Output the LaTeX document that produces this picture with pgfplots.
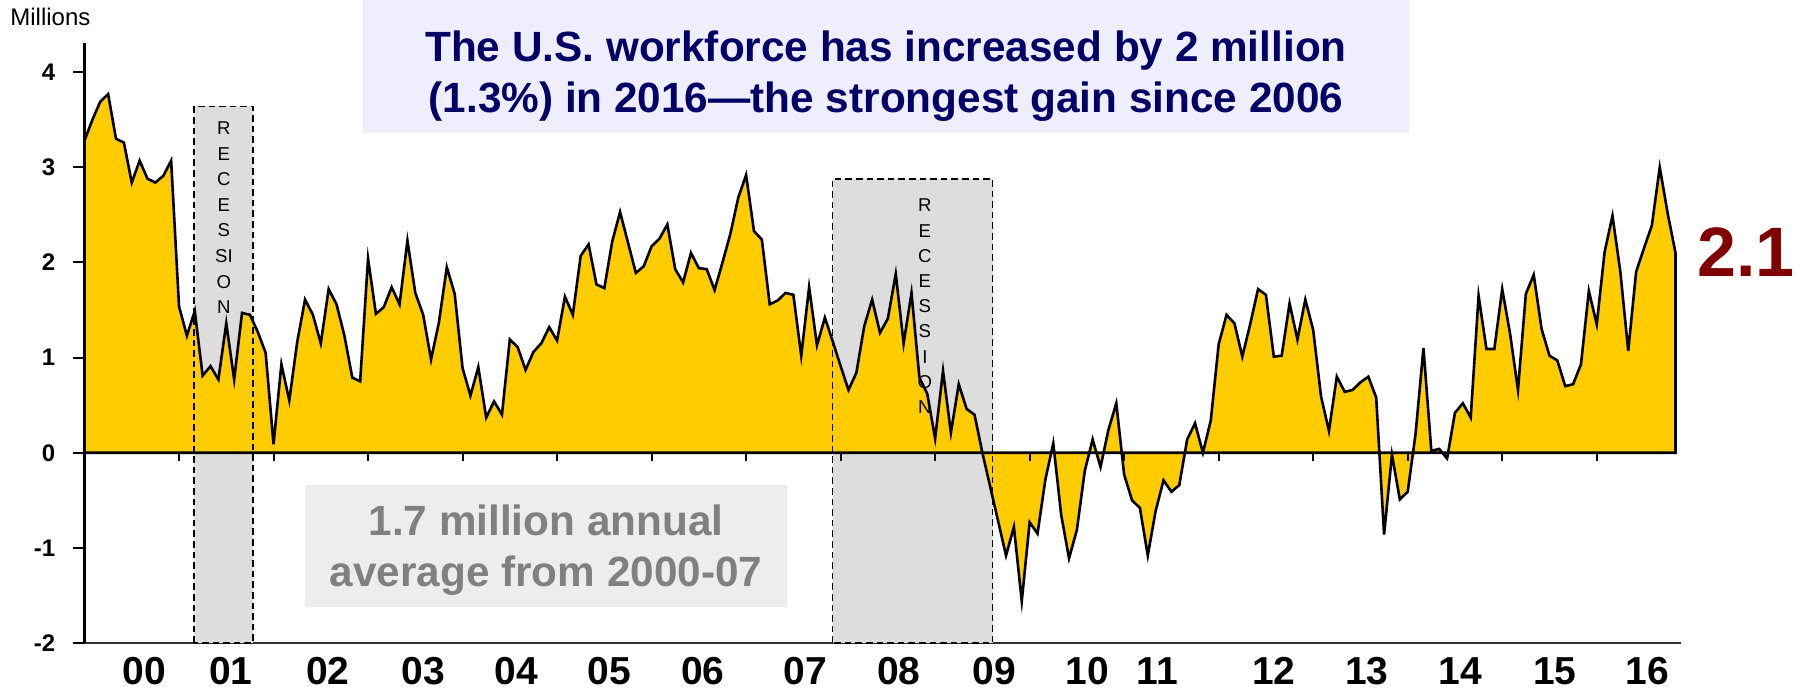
\documentclass[border=0pt]{standalone}
\usepackage{fontspec}
\setmainfont{Liberation Sans}
\usepackage{pgfplots}
\usepackage{pgfplotstable}
\pgfplotsset{compat=1.18}

\definecolor{gold}{RGB}{255,204,0}
\definecolor{navy}{RGB}{0,0,102}
\definecolor{lav}{RGB}{238,238,255}
\definecolor{recgray}{RGB}{221,221,221}
\definecolor{boxgray}{RGB}{237,237,235}
\definecolor{txtgray}{RGB}{128,128,128}
\definecolor{darkred}{RGB}{128,0,0}

% year-over-year change in the labor force, millions, monthly from Jan 2000
\pgfplotstableread{
i v
0 3.28
1 3.50
2 3.69
3 3.77
4 3.30
5 3.26
6 2.84
7 3.07
8 2.88
9 2.84
10 2.91
11 3.07
12 1.54
13 1.23
14 1.49
15 0.81
16 0.91
17 0.77
18 1.36
19 0.77
20 1.47
21 1.45
22 1.27
23 1.05
24 0.09
25 0.93
26 0.55
27 1.16
28 1.61
29 1.45
30 1.15
31 1.72
32 1.56
33 1.23
34 0.79
35 0.75
36 2.04
37 1.46
38 1.53
39 1.74
40 1.56
41 2.23
42 1.68
43 1.45
44 0.98
45 1.37
46 1.95
47 1.67
48 0.89
49 0.60
50 0.90
51 0.37
52 0.54
53 0.40
54 1.19
55 1.11
56 0.87
57 1.06
58 1.15
59 1.32
60 1.18
61 1.64
62 1.45
63 2.07
64 2.19
65 1.77
66 1.73
67 2.22
68 2.53
69 2.21
70 1.89
71 1.96
72 2.17
73 2.25
74 2.40
75 1.93
76 1.79
77 2.10
78 1.94
79 1.93
80 1.71
81 2.00
82 2.30
83 2.68
84 2.92
85 2.33
86 2.24
87 1.56
88 1.60
89 1.68
90 1.66
91 1.02
92 1.74
93 1.13
94 1.42
95 1.17
96 0.91
97 0.66
98 0.84
99 1.33
100 1.61
101 1.26
102 1.41
103 1.88
104 1.15
105 1.68
106 0.79
107 0.62
108 0.15
109 0.86
110 0.21
111 0.72
112 0.46
113 0.40
114 0.00
115 -0.36
116 -0.72
117 -1.08
118 -0.78
119 -1.56
120 -0.73
121 -0.85
122 -0.28
123 0.10
124 -0.65
125 -1.11
126 -0.81
127 -0.19
128 0.14
129 -0.15
130 0.24
131 0.52
132 -0.23
133 -0.50
134 -0.58
135 -1.08
136 -0.61
137 -0.29
138 -0.41
139 -0.34
140 0.14
141 0.31
142 0.00
143 0.34
144 1.14
145 1.45
146 1.36
147 1.01
148 1.35
149 1.72
150 1.66
151 1.01
152 1.02
153 1.57
154 1.19
155 1.61
156 1.29
157 0.59
158 0.23
159 0.80
160 0.64
161 0.66
162 0.74
163 0.80
164 0.58
165 -0.86
166 -0.02
167 -0.49
168 -0.41
169 0.20
170 1.10
171 0.02
172 0.04
173 -0.06
174 0.42
175 0.52
176 0.37
177 1.65
178 1.09
179 1.09
180 1.72
181 1.25
182 0.66
183 1.67
184 1.87
185 1.30
186 1.02
187 0.97
188 0.70
189 0.72
190 0.93
191 1.70
192 1.35
193 2.11
194 2.49
195 1.90
196 1.07
197 1.90
198 2.15
199 2.39
200 3.00
201 2.52
202 2.10
}\lfdata

\begin{document}
\begin{tikzpicture}
\path[use as bounding box] (0,0) rectangle (903pt,-346.5pt);

% headline box
\fill[lav] (181.5pt,5pt) rectangle (704.5pt,-66.5pt);
\node[anchor=base, inner sep=0pt, text=navy, font=\fontsize{21.15pt}{25.5pt}\selectfont\bfseries]
  at (443pt,-30.5pt) {The U.S. workforce has increased by 2 million};
\node[anchor=base, inner sep=0pt, text=navy, font=\fontsize{21.15pt}{25.5pt}\selectfont\bfseries]
  at (443pt,-56pt) {(1.3\%) in 2016—the strongest gain since 2006};

\node[anchor=base west, inner sep=0pt, font=\fontsize{12pt}{14pt}\selectfont]
  at (5pt,-12.5pt) {Millions};

\begin{axis}[
  at={(42.25pt,-321.5pt)}, anchor=south west, scale only axis,
  width=798.25pt, height=300.15pt,
  xmin=0, xmax=202.7, ymin=-2, ymax=4.31,
  axis x line*=bottom, axis y line*=left,
  clip=false,
  x axis line style={black!80, line width=0.8pt},
  y axis line style={black, line width=1.2pt},
  tick align=outside, major tick length=6pt,
  xtick={7.6,18.6,30.9,43.0,54.8,66.6,78.5,91.5,103.4,115.5,127.3,136.2,151.0,162.8,174.7,186.7,198.4},
  xticklabels={00,01,02,03,04,05,06,07,08,09,10,11,12,13,14,15,16},
  xtick style={draw=none},
  ytick={-2,-1,0,1,2,3,4},
  yticklabels={-2,-1,0,1,2,3,4},
  ytick style={black, line width=1pt},
  xticklabel style={anchor=base, inner sep=0pt, yshift=-14.5pt,
    font=\fontsize{19.5pt}{22pt}\selectfont\bfseries},
  yticklabel style={anchor=east, inner sep=0pt, xshift=-8.5pt,
    font=\fontsize{12pt}{14pt}\selectfont\bfseries},
]
% recession shading
\fill[recgray] (axis cs:13.9,-2) rectangle (axis cs:21.4,3.64);
\fill[recgray] (axis cs:95.0,-2) rectangle (axis cs:115.3,2.88);

\addplot[fill=gold, draw=black, line width=1.3pt] table[x=i, y=v] {\lfdata} \closedcycle;

\draw[dashed, line width=0.75pt, dash pattern=on 3.3pt off 2pt]
  (axis cs:13.9,-2) rectangle (axis cs:21.4,3.64);
\draw[dashed, line width=0.75pt, dash pattern=on 3.3pt off 2pt]
  (axis cs:95.0,-2) rectangle (axis cs:115.3,2.88);

% zero line with year ticks
\draw[black, line width=1pt] (axis cs:0,0) -- (axis cs:202,0);
\pgfplotsinvokeforeach{12,24,...,192}{
  \draw[black, line width=1pt] (axis cs:#1,0) -- ++(0pt,-4pt);
}

\node[align=center, inner sep=0pt, font=\fontsize{9.3pt}{12.8pt}\selectfont]
  at (axis cs:17.7,2.47) {R\\E\\C\\E\\S\\SI\\O\\N};
\node[align=center, inner sep=0pt, font=\fontsize{9.3pt}{12.6pt}\selectfont]
  at (axis cs:106.7,1.54) {R\\E\\C\\E\\S\\S\\I\\O\\N};
\end{axis}

% annotation box
\fill[boxgray] (152.5pt,-242.5pt) rectangle (393.5pt,-303.5pt);
\node[anchor=base, inner sep=0pt, text=txtgray, font=\fontsize{21.15pt}{25.5pt}\selectfont\bfseries]
  at (273pt,-267.5pt) {1.7 million annual};
\node[anchor=base, inner sep=0pt, text=txtgray, font=\fontsize{21.15pt}{25.5pt}\selectfont\bfseries]
  at (273pt,-293.3pt) {average from 2000-07};

\node[anchor=base, inner sep=0pt, text=darkred, font=\fontsize{35pt}{42pt}\selectfont\bfseries]
  at (873pt,-138.2pt) {2.1};
\end{tikzpicture}
\end{document}
